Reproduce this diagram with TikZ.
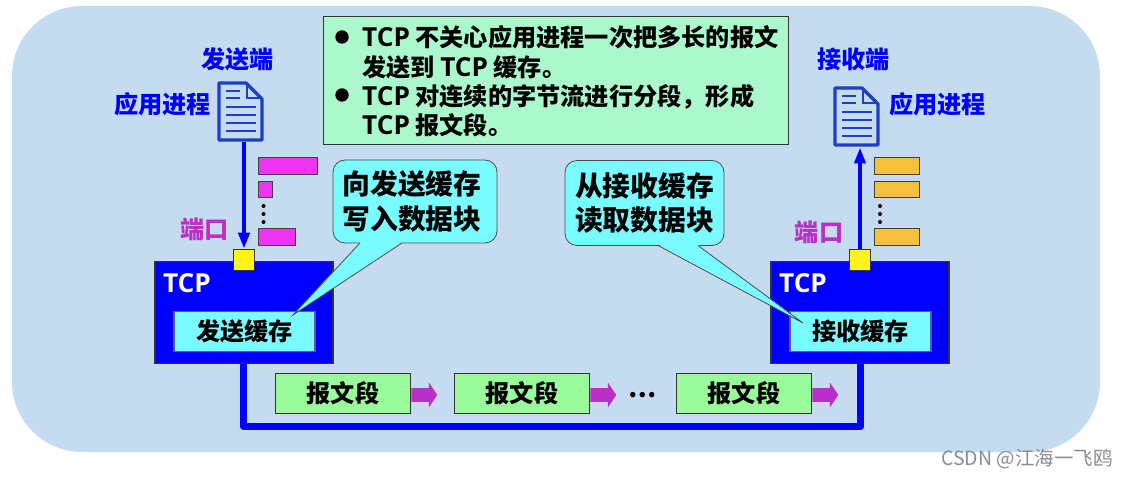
\documentclass[tikz,border=0pt]{standalone}
\usepackage{fontspec}
\setmainfont{Noto Sans CJK SC}
\newfontfamily\latinfont{Open Sans}
\newcommand{\tcpname}{{\latinfont\fontsize{26.2}{24}\selectfont\bfseries TCP}}
\usetikzlibrary{arrows.meta,shapes.arrows}
\definecolor{panelblue}{HTML}{C5DCF0}
\definecolor{notegreen}{HTML}{ABF8CC}
\definecolor{calloutcyan}{HTML}{7AFBFF}
\definecolor{segmentgreen}{HTML}{99FB99}
\definecolor{portpurple}{HTML}{BC2EC8}
\definecolor{blockpink}{HTML}{EE33F2}
\definecolor{blockorange}{HTML}{F5BF40}
\definecolor{docblue}{HTML}{1C3FC8}
\tikzset{
	label text/.style={font=\fontsize{24.2}{24}\selectfont\bfseries, inner sep=0pt},
	tcp box/.style={draw=black!80, line width=1.5pt, fill=blue, anchor=north west, minimum width=178pt, minimum height=102pt},
	buffer box/.style={draw=blue!30!gray, line width=1.5pt, fill=calloutcyan, label text, minimum width=141pt, minimum height=40pt},
	port box/.style={draw=black!80, line width=1.5pt, fill=yellow!90!white, minimum width=21pt, minimum height=21pt},
	segment box/.style={draw=black!80, line width=1.2pt, fill=segmentgreen, label text, minimum width=135pt, minimum height=40pt},
	data block/.style={draw=black!75, line width=1pt, anchor=north west, inner sep=0pt},
	flow arrow/.style={fill=portpurple, single arrow, inner xsep=0pt, inner ysep=6.5pt, minimum height=26pt, minimum width=25pt, single arrow head extend=5.5pt, single arrow tip angle=112},
	app arrow/.style={draw=blue, line width=4pt, -{Triangle[length=16pt,width=11pt]}},
	callout box/.style={draw=black!70, line width=0.8pt, fill=calloutcyan, rounded corners=12pt, inner sep=0pt, align=center, font=\fontsize{27.8}{34.5}\selectfont\bfseries},
	doc line/.style={draw=docblue, line width=2.4pt}
}
\begin{document}
\begin{tikzpicture}[x=1pt, y=-1pt]
	\useasboundingbox (0,0) rectangle (1128,478);
	\fill [panelblue, rounded corners=70pt] (12,6) rectangle (1100,452);

	% note at the top
	\draw [fill=notegreen, draw=black!80, line width=1pt] (323,17) rectangle (788,145);
	\fill (342,37) circle (6.7);
	\fill (342,95) circle (6.7);
	\node [label text, anchor=west, align=left] (noteone) at (362,52) {\tcpname{} 不关心应用进程一次把多长的报文\\[6pt]发送到 \tcpname{} 缓存。};
	\node [label text, anchor=west, align=left] (notetwo) at (362,111) {\tcpname{} 对连续的字节流进行分段，形成\\[3pt]\tcpname{} 报文段。};

	% tcp boxes, ports, buffers
	\foreach \x/\name/\buf in {
		154/send/发送缓存,
		770/recv/接收缓存%
	}
	{
		\node [tcp box] (\name tcp) at (\x,261) {};
		\node [text=white, inner sep=0pt] (\name tcplabel) at (\x+33,283) {\tcpname};
		\node [buffer box] (\name buf) at (\x+90.5,331.5) {\buf};
		\node [port box] (\name port) at (\x+90,260) {};
	}

	% the two documents
	\foreach \x/\y/\name in {
		218/82/send,
		834/87/recv%
	}
	{
		\node [minimum width=45pt, minimum height=60pt, inner sep=0pt, anchor=north west] (\name doc) at (\x,\y) {};
		\draw [doc line, line width=3.4pt, line join=round] (\x+1,\y+1) -- (\x+28,\y+1) -- (\x+44,\y+17) -- (\x+44,\y+58) -- (\x+1,\y+58) -- cycle;
		\draw [doc line, line width=1.8pt] (\x+29,\y+1) -- (\x+29,\y+16) -- (\x+44,\y+16);
		\foreach \off/\len in {9/14, 16/14, 25/30, 33/30, 41/30, 49/30}
		{
			\draw [doc line] (\x+8,\y+\off) -- (\x+8+\len,\y+\off);
		}
	}

	\draw [app arrow] (sendport.north |- senddoc.south) -- (sendport.north);
	\draw [app arrow] (recvport.north) -- (recvport.north |- recvdoc.south);

	\foreach \x/\y/\w/\h/\col in {
		258/158/59/17/blockpink,
		258/182/14/16/blockpink,
		258/229/37/17/blockpink,
		874/158/45/17/blockorange,
		874/182/45/16/blockorange,
		874/229/45/17/blockorange%
	}
	{
		\draw [data block, fill=\col] (\x,\y) rectangle ++(\w,\h);
	}
	\foreach \x in {263.5,880}
	{
		\foreach \y in {206,214,222}
		{
			\fill (\x,\y) circle (2);
		}
	}

	% labels
	\foreach \x/\y/\col/\txt/\name in {
		237.5/59/blue/发送端/sendend,
		162.5/104/blue/应用进程/sendapp,
		853.5/59/blue/接收端/recvend,
		937.5/104/blue/应用进程/recvapp,
		204.5/229/portpurple/端口/sendportlabel,
		819/232/portpurple/端口/recvportlabel%
	}
	{
		\node [label text, text=\col] (\name) at (\x,\y) {\txt};
	}

	% callouts
	\node [callout box, minimum width=164pt, minimum height=83pt] (sendnote) at (415,201.5) {向发送缓存\hspace*{6pt}\\写入数据块\hspace*{6pt}};
	\fill [calloutcyan] (360,242) -- (293,315) -- (402,242) -- cycle;
	\draw [draw=black!70, line width=0.8pt] (360,243) -- (293,315) -- (402,243);
	\node [callout box, minimum width=159pt, minimum height=85pt] (recvnote) at (644.5,203) {从接收缓存\\读取数据块};
	\fill [calloutcyan] (658,244.5) -- (803,323) -- (698,244.5) -- cycle;
	\draw [draw=black!70, line width=0.8pt] (658,245.5) -- (803,323) -- (698,245.5);

	% the segments on the line
	\coordinate (pipeleft) at (243.5,427);
	\coordinate (piperight) at (860.5,427);
	\draw [draw=blue, line width=7pt, line join=round] (pipeleft |- sendtcp.south) -- (pipeleft) -- (piperight) -- (piperight |- recvtcp.south);
	\foreach \x/\name in {
		343/one,
		522/two,
		744/three%
	}
	{
		\node [segment box] (seg\name) at (\x,393.5) {报文段};
		\node [flow arrow, anchor=west, yshift=-1.5pt] (flow\name) at (seg\name.east) {};
	}
	\node [font=\fontsize{25}{25}\selectfont\bfseries, inner sep=0pt] (segdots) at (643,395) {…};

	\node [font=\fontsize{19.5}{19.5}\selectfont, text=black!45, inner sep=0pt] (mark) at (1027,459) {CSDN @江海一飞鸥};
\end{tikzpicture}
\end{document}
